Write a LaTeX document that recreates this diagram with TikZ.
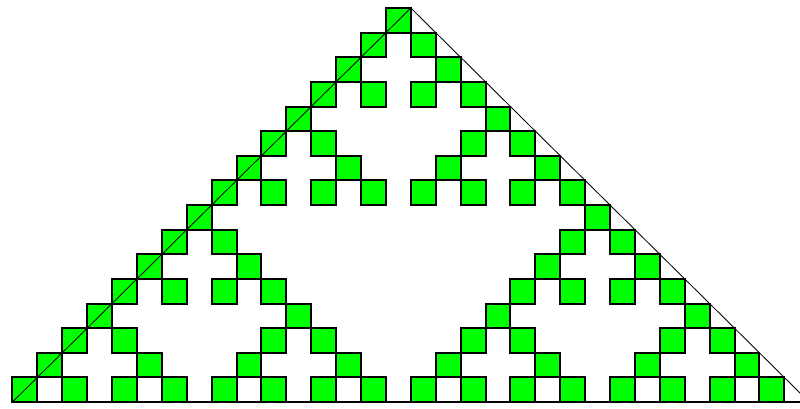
\documentclass[tikz,border=0pt]{standalone}
\usepackage{tikz}
\tikzstyle{cell} = [draw=black, fill=green, line width=1.4pt]
\tikzstyle{outline} = [black, line width=0.6pt]
\tikzstyle{base} = [black, line width=1.4pt]

\begin{document}
\begin{tikzpicture}[x=0.6225cm, y=0.61575cm]
    \useasboundingbox (-15.50,0.325) rectangle (16.63,-16.28);
    \clip (-15.50,0.325) rectangle (16.63,-16.28);

    \foreach \n in {0,...,15} {
      \foreach \k in {0,...,\n} {
        \pgfmathtruncatemacro{\bad}{mod(\k,2)*(1-mod(\n,2)) + mod(floor(\k/2),2)*(1-mod(floor(\n/2),2)) + mod(floor(\k/4),2)*(1-mod(floor(\n/4),2)) + mod(floor(\k/8),2)*(1-mod(floor(\n/8),2))}
        \ifnum\bad=0
          \filldraw[cell] ({2*\k-\n},{-\n}) rectangle ++(1,-1);
        \fi
      }
    }

    \draw[outline] (-15,-16) -- (1,0) -- (17,-16);
    \draw[base] (-15,-16) -- (17,-16);
\end{tikzpicture}
\end{document}
